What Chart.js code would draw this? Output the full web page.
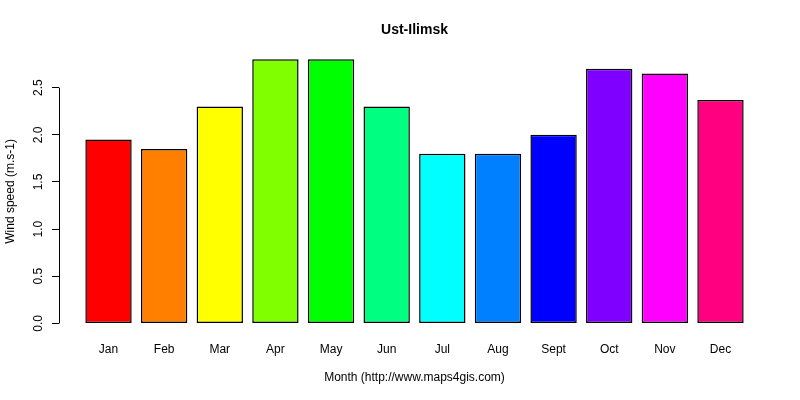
<!DOCTYPE html>
<html>
<head>
<meta charset="utf-8">
<script src="https://cdn.jsdelivr.net/npm/chart.js@4/dist/chart.umd.min.js"></script>
<style>
  body { margin: 0; background: #fff; }
  canvas { display: block; }
</style>
</head>
<body>
<canvas id="windChart" width="800" height="400"></canvas>
<script>
// ---------------- DATA ----------------
const months = ["Jan", "Feb", "Mar", "Apr", "May", "Jun", "Jul", "Aug", "Sept", "Oct", "Nov", "Dec"];
const windSpeed = [1.95, 1.85, 2.3, 2.8, 2.8, 2.3, 1.8, 1.8, 2.0, 2.7, 2.65, 2.37];
const barColors = ["#FF0000", "#FF8000", "#FFFF00", "#80FF00", "#00FF00", "#00FF80",
                   "#00FFFF", "#0080FF", "#0000FF", "#8000FF", "#FF00FF", "#FF0080"];
const yTicks = [0, 0.5, 1.0, 1.5, 2.0, 2.5];

// R barplot style: bar width 1, gap 0.2
const barPos = months.map((m, i) => 0.7 + 1.2 * i);

// y axis line only spans the tick range, like R's axis()
const axisLine = {
    id: "axisLine",
    afterDraw(chart) {
        const y = chart.scales.y;
        const ctx = chart.ctx;
        const x = chart.chartArea.left;
        ctx.save();
        ctx.strokeStyle = "#000";
        ctx.lineWidth = 1;
        ctx.beginPath();
        ctx.moveTo(x + 0.5, y.getPixelForValue(yTicks[0]));
        ctx.lineTo(x + 0.5, y.getPixelForValue(yTicks[yTicks.length - 1]));
        ctx.stroke();
        ctx.restore();
    }
};

new Chart(document.getElementById("windChart"), {
    type: "bar",
    data: {
        datasets: [{
            data: months.map((m, i) => ({ x: barPos[i], y: windSpeed[i] })),
            backgroundColor: barColors,
            borderColor: "#000",
            borderWidth: 1.5,
            borderSkipped: false,
            categoryPercentage: 1,
            barPercentage: 0.8333
        }]
    },
    options: {
        responsive: false,
        animation: false,
        devicePixelRatio: 1,
        layout: { padding: { left: 0, right: 30, top: 0, bottom: 0 } },
        plugins: {
            legend: { display: false },
            tooltip: { enabled: false },
            title: {
                display: true,
                fullSize: false,
                text: "Ust-Ilimsk",
                color: "#000",
                font: { family: "Liberation Sans", size: 14, weight: "bold" },
                padding: { top: 22, bottom: 10 }
            }
        },
        scales: {
            x: {
                type: "linear",
                offset: false,
                min: -0.368,
                max: 14.968,
                grid: { display: false, drawTicks: false },
                border: { display: false },
                afterBuildTicks: s => { s.ticks = barPos.map(v => ({ value: v })); },
                afterFit: s => { s.height = 66; },
                ticks: {
                    autoSkip: false,
                    maxRotation: 0,
                    padding: 8,
                    color: "#000",
                    font: { family: "Liberation Sans", size: 12 },
                    callback: (v, i) => months[i]
                },
                title: {
                    display: true,
                    text: "Month (http://www.maps4gis.com)",
                    color: "#000",
                    font: { family: "Liberation Sans", size: 12 },
                    padding: { top: 0, bottom: 15 }
                }
            },
            y: {
                min: -0.112,
                max: 2.912,
                afterBuildTicks: s => { s.ticks = yTicks.map(v => ({ value: v })); },
                afterFit: s => { s.width = 59; },
                grid: { drawOnChartArea: false, tickLength: 7, color: "#000" },
                border: { display: false },
                ticks: {
                    minRotation: 90,
                    maxRotation: 90,
                    crossAlign: "center",
                    padding: 5,
                    color: "#000",
                    font: { family: "Liberation Sans", size: 12 },
                    callback: v => v.toFixed(1)
                },
                title: {
                    display: true,
                    text: "Wind speed (m.s-1)",
                    color: "#000",
                    font: { family: "Liberation Sans", size: 12 },
                    padding: { top: 3, bottom: 0 }
                }
            }
        }
    },
    plugins: [axisLine]
});
</script>
</body>
</html>
